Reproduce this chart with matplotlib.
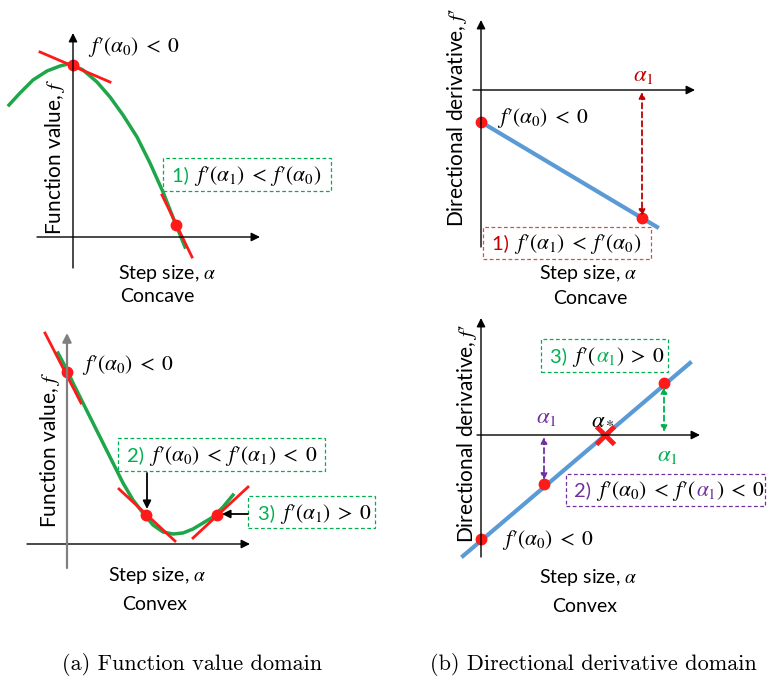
import matplotlib
matplotlib.use("Agg")
import matplotlib.pyplot as plt
from matplotlib.patches import Rectangle
from matplotlib.transforms import offset_copy

plt.rcParams['mathtext.fontset'] = 'stix'
plt.rcParams['font.family'] = ['Lato', 'DejaVu Sans']

W, H = 767, 686

# panel (a) concave: f(alpha) samples, tangent points
conc_x = [-64, -53, -40, -26, -13, -5, 0, 10, 24, 37, 50, 64, 77, 90, 103, 112]
conc_f = [132, 144, 157, 166, 171, 173, 172, 167, 155, 140, 122, 100, 74, 45, 12, -10]
conc_pts_x = [0, 103]
conc_pts_f = [172, 12]
conc_tan = [((-33, 185), (37, 155)), ((89, 42), (119, -20))]

# panel (a) convex
conv_x = [-9, 0, 6, 16, 26, 36, 46, 56, 66, 76, 86, 96, 106, 116, 126, 136, 146, 156, 166]
conv_f = [191, 174, 161, 141, 121, 101, 81, 61, 44, 31, 19, 12, 10, 11, 15, 21, 27, 37, 49]
conv_pts_x = [0, 79, 150]
conv_pts_f = [172, 29, 29]
conv_tan = [((-22, 211), (14, 141)), ((52, 55), (108, 3)), ((126, 6), (181, 57))]

# panel (b) concave: derivative line
dconc_x = [0, 176]
dconc_d = [-32, -137]
dconc_pts_x = [0, 161]
dconc_pts_d = [-32, -128]

# panel (b) convex
dconv_x = [-18, 209]
dconv_d = [-121, 72]
dconv_pts_x = [0, 63, 183]
dconv_pts_d = [-104, -49, 52]
alpha_star = 124

GREEN = '#1fa64a'
TGREEN = '#00b050'
RED = '#ff1a1a'
DRED = '#c00000'
PURPLE = '#7030a0'
BLUE = '#5b9bd5'
LBL = 14
MTH = 15.5

FP = r"f\prime"
F0 = rf"${FP}(\alpha_0)\;<\;0$"

fig = plt.figure(figsize=(W / 100, H / 100), dpi=100)
renderer = fig.canvas.get_renderer()


def panel(ox, oy):
    ax = fig.add_axes([0, 0, 1, 1])
    ax.set_xlim(-ox, W - ox)
    ax.set_ylim(oy - H, oy)
    ax.axis('off')
    ax.patch.set_alpha(0)
    return ax


def axes_arrows(ax, x0, x1, y0, y1, ycolor='k', ylw=1.0):
    ax.annotate('', xy=(x1, 0), xytext=(x0, 0),
                arrowprops=dict(arrowstyle='-|>', color='k', lw=1.0,
                                mutation_scale=13, shrinkA=0, shrinkB=0))
    ax.annotate('', xy=(0, y1), xytext=(0, y0),
                arrowprops=dict(arrowstyle='-|>', color=ycolor, lw=ylw,
                                mutation_scale=13, shrinkA=0, shrinkB=0))


def rich(ax, x, y, parts):
    # coloured pieces laid side by side on one baseline
    dx = 0
    for s, c in parts:
        tr = offset_copy(ax.transData, fig=fig, x=dx, y=0, units='dots')
        fs = MTH if s.startswith('$') else LBL + 0.5
        t = ax.text(x, y, s, color=c, fontsize=fs, va='baseline', ha='left',
                    transform=tr)
        dx += t.get_window_extent(renderer).width


def box(ax, x0, x1, y0, y1, color):
    ax.add_patch(Rectangle((x0, y0), x1 - x0, y1 - y0, fill=False,
                           ec=color, lw=0.9, ls=(0, (3, 2))))


def dashed_arrow(ax, x, y0, y1, color):
    ax.annotate('', xy=(x, y1), xytext=(x, y0),
                arrowprops=dict(arrowstyle='<|-|>', color=color, lw=1.3,
                                ls=(0, (3, 2)), mutation_scale=9,
                                shrinkA=0, shrinkB=0))


# ---- (a) concave
ax = panel(73, 237)
axes_arrows(ax, -36, 187, -31, 204)
ax.plot(conc_x, conc_f, color=GREEN, lw=2.5)
for (p, q) in conc_tan:
    ax.plot([p[0], q[0]], [p[1], q[1]], color=RED, lw=2)
ax.plot(conc_pts_x, conc_pts_f, 'o', color=RED, ms=7.5)
ax.text(15, 190, F0, fontsize=MTH, va='center', ha='left')
box(ax, 90, 258, 46, 79, TGREEN)
rich(ax, 99, 56, [('1) ', TGREEN), (rf"${FP}(\alpha_1)\;<\;{FP}(\alpha_0)$", 'k')])
ax.text(-18, 80, r"Function value, $f$", rotation=90, fontsize=LBL + 1,
        ha='center', va='center')
ax.text(94, -36, r"Step size, $\alpha$", fontsize=LBL, ha='center', va='center')
ax.text(84, -60, "Concave", fontsize=LBL, ha='center', va='center')

# ---- (b) concave
ax = panel(481, 90)
axes_arrows(ax, -8, 214, -157, 70)
ax.plot(dconc_x, dconc_d, color=BLUE, lw=3)
dashed_arrow(ax, dconc_pts_x[1], -2, dconc_pts_d[1] + 2, DRED)
ax.plot(dconc_pts_x, dconc_pts_d, 'o', color=RED, ms=7.5)
ax.text(162, 14, r"$\alpha_1$", color=DRED, fontsize=MTH + 1, ha='center', va='center')
ax.text(16, -28, F0, fontsize=MTH, va='center', ha='left')
box(ax, 2, 170, -169, -137, '#d05050')
rich(ax, 11, -159, [('1) ', DRED), (rf"${FP}(\alpha_1)\;<\;{FP}(\alpha_0)$", 'k')])
ax.text(-24, -27, rf"Directional derivative, ${FP}$", rotation=90,
        fontsize=LBL + 1, ha='center', va='center')
ax.text(107, -183, r"Step size, $\alpha$", fontsize=LBL, ha='center', va='center')
ax.text(109, -208, "Concave", fontsize=LBL, ha='center', va='center')

# ---- (a) convex
ax = panel(67, 544)
axes_arrows(ax, -40, 183, -24, 211, ycolor='#808080', ylw=1.6)
ax.plot(conv_x, conv_f, color=GREEN, lw=2.5)
for (p, q) in conv_tan:
    ax.plot([p[0], q[0]], [p[1], q[1]], color=RED, lw=2)
ax.plot(conv_pts_x, conv_pts_f, 'o', color=RED, ms=7.5)
ax.text(15, 179, F0, fontsize=MTH, va='center', ha='left')
box(ax, 51, 258, 73, 106, TGREEN)
rich(ax, 60, 83, [('2) ', TGREEN),
                  (rf"${FP}(\alpha_0)\;<\;{FP}(\alpha_1)\;<\;0$", 'k')])
ax.annotate('', xy=(80, 35), xytext=(80, 71),
            arrowprops=dict(arrowstyle='-|>', color='k', lw=1.3,
                            mutation_scale=12, shrinkA=0, shrinkB=0))
box(ax, 181, 308, 16, 48, TGREEN)
rich(ax, 191, 25, [('3) ', TGREEN), (rf"${FP}(\alpha_1)\;>\;0$", 'k')])
ax.annotate('', xy=(155, 30), xytext=(181, 30),
            arrowprops=dict(arrowstyle='-|>', color='k', lw=1.3,
                            mutation_scale=12, shrinkA=0, shrinkB=0))
ax.text(-17, 94, r"Function value, $f$", rotation=90, fontsize=LBL + 1,
        ha='center', va='center')
ax.text(90, -31, r"Step size, $\alpha$", fontsize=LBL, ha='center', va='center')
ax.text(88, -61, "Convex", fontsize=LBL, ha='center', va='center')

# ---- (b) convex
ax = panel(481, 435)
axes_arrows(ax, -4, 219, -122, 117)
ax.plot(dconv_x, dconv_d, color=BLUE, lw=3)
dashed_arrow(ax, dconv_pts_x[1], -2, dconv_pts_d[1] + 4, PURPLE)
dashed_arrow(ax, dconv_pts_x[2], 3, dconv_pts_d[2] - 4, TGREEN)
ax.plot(dconv_pts_x, dconv_pts_d, 'o', color=RED, ms=7.5)
ax.plot([alpha_star], [0], 'x', color=RED, ms=13, mew=3.5)
ax.text(122, 18, r"$\alpha_*$", fontsize=MTH + 1, ha='center', va='center')
ax.text(65, 17, r"$\alpha_1$", color=PURPLE, fontsize=MTH + 1, ha='center', va='center')
ax.text(186, -20, r"$\alpha_1$", color=TGREEN, fontsize=MTH + 1, ha='center', va='center')
box(ax, 60, 187, 63, 96, TGREEN)
rich(ax, 69, 73, [('3) ', TGREEN), (rf"${FP}($", 'k'), (r"$\alpha_1$", TGREEN),
                  (r"$)\;>\;0$", 'k')])
box(ax, 85, 284, -71, -39, PURPLE)
rich(ax, 93, -61, [('2) ', PURPLE), (rf"${FP}(\alpha_0)\;<\;{FP}($", 'k'),
                   (r"$\alpha_1$", PURPLE), (r"$)\;<\;0$", 'k')])
ax.text(21, -105, F0, fontsize=MTH, va='center', ha='left')
ax.text(-14, 2, rf"Directional derivative, ${FP}$", rotation=90,
        fontsize=LBL + 1, ha='center', va='center')
ax.text(107, -142, r"Step size, $\alpha$", fontsize=LBL, ha='center', va='center')
ax.text(104, -172, "Convex", fontsize=LBL, ha='center', va='center')

# sub-captions
fig.text(192 / W, 1 - 664 / H, "(a) Function value domain", family='cmr10',
         fontsize=16, ha='center', va='center')
fig.text(593 / W, 1 - 664 / H, "(b) Directional derivative domain", family='cmr10',
         fontsize=16, ha='center', va='center')

fig.savefig('out.png', dpi=100)
